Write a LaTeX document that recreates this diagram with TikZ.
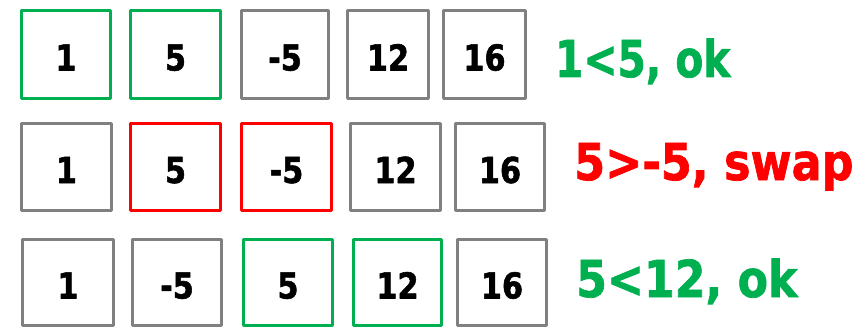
\documentclass[tikz,border=0pt]{standalone}
\usepackage{fontspec}
\newfontfamily\numfont{DejaVu Sans Bold}[FakeStretch=0.85, FakeBold=1.5]
\newfontfamily\labfont{DejaVu Sans Bold}[FakeBold=1.5]
\definecolor{okgreen}{HTML}{00B050}
\definecolor{swapred}{HTML}{FF0000}
\definecolor{boxgray}{HTML}{808080}
\tikzset{
  cell/.style={draw=boxgray, line width=3.3pt, line join=round, inner sep=0pt,
    text height=32pt, text depth=0pt,
    font=\numfont\fontsize{35.7}{40}\selectfont},
  gcell/.style={cell, draw=okgreen},
  rcell/.style={cell, draw=swapred},
  lab/.style={anchor=base west, inner sep=0pt,
    font=\labfont\fontsize{50.8}{60}\selectfont}
}
% box: name, style, x1, x2, y1, y2, text
\newcommand{\cellbox}[7]{%
  \node[#2, minimum width={(#4-#3)*1pt}, minimum height={(#6-#5)*1pt}]
    (#1) at ({(#3+#4)/2}, {(#5+#6)/2}) {#7};}
\begin{document}
\begin{tikzpicture}[x=1pt, y=-1pt]
\useasboundingbox (0,0) rectangle (867,329);
% row 1
\cellbox{a1}{gcell}{21.5}{110.5}{10.5}{98.5}{1}
\cellbox{a2}{gcell}{130.5}{220.5}{10.5}{98.5}{5}
\cellbox{a3}{cell}{241.5}{328.5}{10.5}{98.5}{-5}
\cellbox{a4}{cell}{347.5}{428.5}{10.5}{98.5}{12}
\cellbox{a5}{cell}{443.5}{525.5}{10.5}{98.5}{16}
\node[lab, text=okgreen] (la) at (555,77) {\scalebox{0.8}[1]{1<5, ok}};
% row 2
\cellbox{b1}{cell}{21.5}{111.5}{123.5}{210.5}{1}
\cellbox{b2}{rcell}{130.5}{220.5}{123.5}{210.5}{5}
\cellbox{b3}{rcell}{241.5}{331.5}{123.5}{210.5}{-5}
\cellbox{b4}{cell}{350.5}{440.5}{123.5}{210.5}{12}
\cellbox{b5}{cell}{455.5}{544.5}{123.5}{210.5}{16}
\node[lab, text=swapred] (lb) at (574,180) {\scalebox{0.875}[1]{5>-5, swap}};
% row 3
\cellbox{c1}{cell}{22.5}{113.5}{239.5}{325.5}{1}
\cellbox{c2}{cell}{132.5}{221.5}{239.5}{325.5}{-5}
\cellbox{c3}{gcell}{243.5}{332.5}{239.5}{325.5}{5}
\cellbox{c4}{gcell}{353.5}{441.5}{239.5}{325.5}{12}
\cellbox{c5}{cell}{457.5}{546.5}{239.5}{325.5}{16}
\node[lab, text=okgreen] (lc) at (576,297) {\scalebox{0.87}[1]{5<12, ok}};
\end{tikzpicture}
\end{document}
